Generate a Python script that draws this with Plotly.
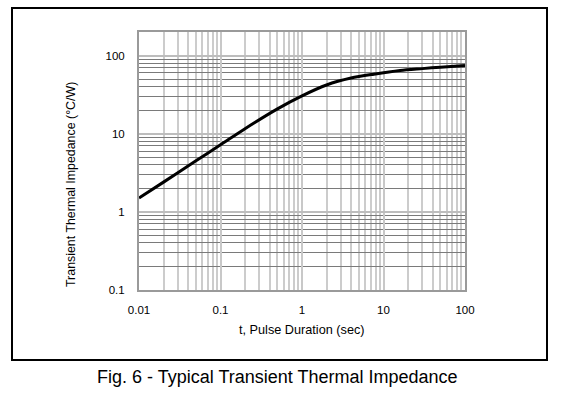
import plotly.graph_objects as go
import math

# Data
t_sec = [0.01, 0.02, 0.05, 0.1, 0.2, 0.5, 1, 2, 4, 7.6, 16, 30, 50, 100]
z_thermal = [1.5, 2.4, 4.5, 7.2, 11.6, 20.8, 30.5, 42, 51.5, 57.7, 64.3, 68, 71, 74.5]

x_tickvals = [0.01, 0.1, 1, 10, 100]
x_ticktext = ["0.01", "0.1", "1", "10", "100"]
y_tickvals = [0.1, 1, 10, 100]
y_ticktext = ["0.1", "1", "10", "100"]

FONT = "Liberation Sans, Arial, sans-serif"

fig = go.Figure()
fig.add_trace(go.Scatter(
    x=t_sec, y=z_thermal, mode="lines",
    line=dict(color="black", width=3, shape="spline", smoothing=0.8),
    hoverinfo="skip", showlegend=False,
))

fig.update_layout(
    width=564, height=394,
    margin=dict(l=139, r=99, t=32, b=104),
    paper_bgcolor="white", plot_bgcolor="white",
    font=dict(family=FONT, color="black", size=11),
    showlegend=False,
)

fig.update_xaxes(
    type="log", range=[-2, 2],
    tickvals=x_tickvals, ticktext=x_ticktext,
    tickfont=dict(size=11.5, color="black"),
    showgrid=True, gridcolor="#c8c8c8", gridwidth=1.5,
    minor=dict(dtick="D1", showgrid=True, gridcolor="#cccccc", gridwidth=1.5),
    showline=True, linecolor="#9a9a9a", linewidth=2, mirror=True,
    ticks="", ticklabelstandoff=8,
    zeroline=False,
)
fig.update_yaxes(
    type="log", range=[-1, math.log10(200)],
    tickvals=y_tickvals, ticktext=y_ticktext,
    tickfont=dict(size=11.5, color="black"),
    showgrid=True, gridcolor="#bdbdbd", gridwidth=1.5,
    minor=dict(dtick="D1", showgrid=True, gridcolor="#7a7a7a", gridwidth=1),
    showline=True, linecolor="#9a9a9a", linewidth=2, mirror=True,
    ticks="", ticklabelstandoff=10,
    zeroline=False,
)

# Outer frame
fig.add_shape(type="rect", xref="paper", yref="paper",
              x0=(12 - 139) / 326, x1=(547 - 139) / 326,
              y0=(290 - 360) / 258, y1=(290 - 8) / 258,
              line=dict(color="black", width=2), fillcolor="rgba(0,0,0,0)",
              layer="below")

# Axis titles
fig.add_annotation(text="t, Pulse Duration (sec)", xref="paper", yref="paper",
                   x=(302 - 139) / 326, y=(290 - 330) / 258,
                   showarrow=False, font=dict(size=12.7, color="black", family=FONT),
                   xanchor="center", yanchor="middle")
fig.add_annotation(text="Transient Thermal Impedance (°C/W)", xref="paper", yref="paper",
                   x=(71 - 139) / 326, y=(290 - 185) / 258, textangle=-90,
                   showarrow=False, font=dict(size=12.4, color="black", family=FONT),
                   xanchor="center", yanchor="middle")
# Caption
fig.add_annotation(text="Fig. 6 - Typical Transient Thermal Impedance", xref="paper", yref="paper",
                   x=(277 - 139) / 326, y=(290 - 377) / 258,
                   showarrow=False, font=dict(size=18, color="black", family=FONT),
                   xanchor="center", yanchor="middle")

fig.write_html("out.html", config={"displayModeBar": False},
               post_script="document.body.style.margin='0';document.body.style.padding='0';")
